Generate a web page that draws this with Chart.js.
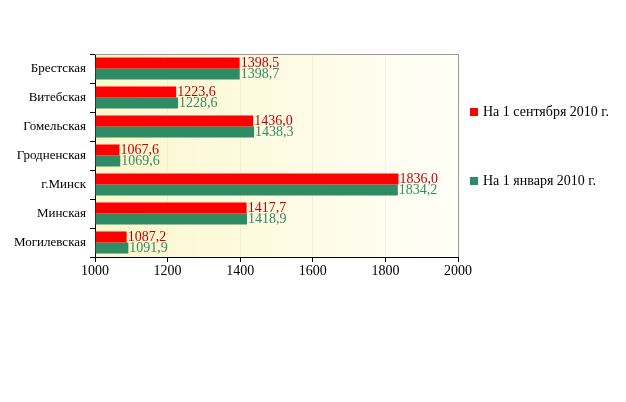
<!DOCTYPE html>
<html lang="ru">
<head>
    <meta charset="UTF-8">
    <script src="https://cdn.jsdelivr.net/npm/chart.js@4.4.0/dist/chart.umd.min.js"></script>
    <style>
        body { margin: 0; background: #fff; }
        #wrap { position: relative; width: 626px; height: 402px; }
        canvas { display: block; }
        .legend {
            position: absolute;
            left: 470px;
            font-family: "Liberation Serif", "Times New Roman", serif;
            font-size: 14px;
            color: #000;
            white-space: nowrap;
        }
        .legend span {
            display: inline-block;
            width: 8px;
            height: 8px;
            margin-right: 5px;
        }
    </style>
    <title>Регионы</title>
</head>
<body>
    <div id="wrap">
        <canvas id="chart" width="626" height="402"></canvas>
        <div class="legend" style="top: 104px;"><span style="background:#ff0000"></span>На 1 сентября 2010 г.</div>
        <div class="legend" style="top: 173px;"><span style="background:#2e8b63"></span>На 1 января 2010 г.</div>
    </div>

    <script>
        const regions = ['Брестская', 'Витебская', 'Гомельская', 'Гродненская', 'г.Минск', 'Минская', 'Могилевская'];
        const sep2010 = [1398.5, 1223.6, 1436.0, 1067.6, 1836.0, 1417.7, 1087.2];
        const jan2010 = [1398.7, 1228.6, 1438.3, 1069.6, 1834.2, 1418.9, 1091.9];
        const seriesNames = ['На 1 сентября 2010 г.', 'На 1 января 2010 г.'];

        const serif = '"Liberation Serif", "Times New Roman", serif';

        // background gradient + top/right border
        const plotBg = {
            id: 'plotBg',
            beforeDraw(chart) {
                const { ctx, chartArea: a } = chart;
                const g = ctx.createLinearGradient(a.left, 0, a.right, 0);
                g.addColorStop(0, '#fcf6cc');
                g.addColorStop(1, '#fffff8');
                ctx.save();
                ctx.fillStyle = g;
                ctx.fillRect(a.left, a.top, a.right - a.left, a.bottom - a.top);
                ctx.restore();
            },
            afterDraw(chart) {
                const { ctx, chartArea: a } = chart;
                ctx.save();
                ctx.strokeStyle = '#999';
                ctx.lineWidth = 1;
                ctx.beginPath();
                ctx.moveTo(a.left, a.top + 0.5);
                ctx.lineTo(a.right + 0.5, a.top + 0.5);
                ctx.lineTo(a.right + 0.5, a.bottom);
                ctx.stroke();
                ctx.restore();
            }
        };

        // value labels at bar ends
        const barLabels = {
            id: 'barLabels',
            afterDatasetsDraw(chart) {
                const { ctx } = chart;
                const colors = ['#c00000', '#2e8b63'];
                ctx.save();
                ctx.font = '14px ' + serif;
                ctx.textBaseline = 'middle';
                ctx.textAlign = 'left';
                chart.data.datasets.forEach((ds, di) => {
                    const meta = chart.getDatasetMeta(di);
                    ctx.fillStyle = colors[di];
                    meta.data.forEach((bar, i) => {
                        const txt = ds.data[i].toFixed(1).replace('.', ',');
                        ctx.fillText(txt, bar.x + 1, bar.y);
                    });
                });
                ctx.restore();
            }
        };

        new Chart(document.getElementById('chart'), {
            type: 'bar',
            data: {
                labels: regions,
                datasets: [
                    { label: seriesNames[0], data: sep2010, backgroundColor: '#ff0000', base: 1000 },
                    { label: seriesNames[1], data: jan2010, backgroundColor: '#2e8b63', base: 1000 }
                ]
            },
            options: {
                indexAxis: 'y',
                responsive: false,
                animation: false,
                layout: { padding: { left: 0, top: 54, right: 168, bottom: 115 } },
                datasets: { bar: { categoryPercentage: 0.76, barPercentage: 1 } },
                plugins: {
                    legend: { display: false },
                    tooltip: { enabled: false }
                },
                scales: {
                    x: {
                        min: 1000,
                        max: 2000,
                        afterFit: s => { s.height = 30; },
                        ticks: {
                            stepSize: 200,
                            color: '#000',
                            font: { family: serif, size: 14 },
                            padding: 1,
                            callback: v => String(v)
                        },
                        grid: {
                            color: 'rgba(0,0,0,0.04)',
                            tickColor: '#000',
                            tickLength: 5
                        },
                        border: { color: '#000' }
                    },
                    y: {
                        afterFit: s => { s.width = 95; },
                        ticks: {
                            color: '#000',
                            font: { family: serif, size: 13 },
                            padding: 4
                        },
                        grid: {
                            drawOnChartArea: false,
                            tickColor: '#000',
                            tickLength: 5
                        },
                        border: { color: '#000' }
                    }
                }
            },
            plugins: [plotBg, barLabels]
        });
    </script>
</body>
</html>
